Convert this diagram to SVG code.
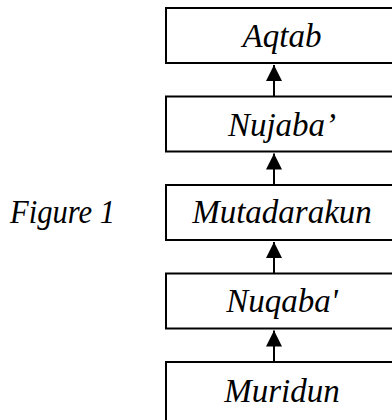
<svg xmlns="http://www.w3.org/2000/svg" width="392" height="420" viewBox="0 0 392 420">
  <defs>
    <style>
      .box { fill: #ffffff; stroke: #000000; stroke-width: 2; }
      .lbl { font-family: "Liberation Serif", "Times New Roman", serif; font-style: italic; font-size: 33px; fill: #000000; text-anchor: middle; }
      .cap { font-family: "Liberation Serif", "Times New Roman", serif; font-style: italic; font-size: 33px; fill: #000000; }
      .conn { stroke: #000000; stroke-width: 2; fill: none; }
    </style>
    <marker id="arr" viewBox="0 0 10 10" refX="10" refY="5" markerWidth="16" markerHeight="16" markerUnits="userSpaceOnUse" orient="auto">
      <path d="M0,0 L10,5 L0,10 Z" fill="#000000"/>
    </marker>
  </defs>
  <rect width="392" height="420" fill="#ffffff"/>
  <text class="cap" x="10" y="223" textLength="105" lengthAdjust="spacingAndGlyphs">Figure 1</text>
  <g id="connectors">
    <line class="conn" x1="274" y1="96.5" x2="274" y2="65" marker-end="url(#arr)"/>
    <line class="conn" x1="274" y1="185" x2="274" y2="153.5" marker-end="url(#arr)"/>
    <line class="conn" x1="274" y1="273.5" x2="274" y2="242" marker-end="url(#arr)"/>
    <line class="conn" x1="274" y1="362" x2="274" y2="330.5" marker-end="url(#arr)"/>
  </g>
  <g id="aqtab">
    <rect class="box" x="166" y="8" width="234" height="55"/>
    <text class="lbl" x="282" y="47">Aqtab</text>
  </g>
  <g id="nujaba">
    <rect class="box" x="166" y="96.5" width="234" height="55"/>
    <text class="lbl" x="282" y="135.5">Nujaba’</text>
  </g>
  <g id="mutadarakun">
    <rect class="box" x="166" y="185" width="234" height="55"/>
    <text class="lbl" x="282" y="223">Mutadarakun</text>
  </g>
  <g id="nuqaba">
    <rect class="box" x="166" y="273.5" width="234" height="55"/>
    <text class="lbl" x="282" y="312">Nuqaba'</text>
  </g>
  <g id="muridun">
    <rect class="box" x="166" y="362" width="234" height="70"/>
    <text class="lbl" x="282" y="402">Muridun</text>
  </g>
</svg>
